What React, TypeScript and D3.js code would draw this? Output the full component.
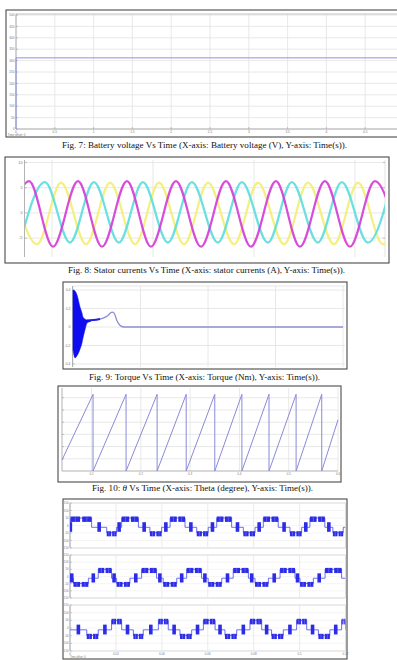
import React from "react";
import * as d3 from "d3";

const SERIF = "'Liberation Serif','Times New Roman',Times,serif";
const SANS = "'Liberation Sans',Arial,Helvetica,sans-serif";
const GRID = "#e2e2e2";
const AXIS = "#a0a0a0";
const TICKTXT = "#7a7a7a";
const BOX = "#4a4a4a";

// ---------- Fig 7: battery voltage ----------
const f7Time = [0, 0, 5];
const f7Voltage = [0, 312, 312];
const f7XTicks = [0, 0.5, 1, 1.5, 2, 2.5, 3, 3.5, 4, 4.5, 5];
const f7YTicks = [0, 50, 100, 150, 200, 250, 300, 350, 400, 450, 500];

// ---------- Fig 8: stator currents (times in ms, extrema) ----------
const f8MagentaPeaks = [10.9, 30.3, 49.7, 69.1, 88.9, 108.7, 128.1, 147.9];
const f8MagentaTroughs = [1.0, 20.4, 39.8, 59.2, 79.0, 98.8, 118.2, 138.0, 157.8];
const f8CyanPeaks = [17.2, 36.6, 56.0, 75.4, 95.2, 115.0, 134.8, 154.6];
const f8CyanTroughs = [7.3, 27.1, 46.5, 65.9, 85.7, 105.5, 125.3, 145.1];
const f8YellowPeaks = [4.2, 23.6, 43.0, 62.4, 81.8, 101.6, 121.4, 141.2, 161.0];
const f8YellowTroughs = [14.1, 33.5, 52.9, 72.3, 92.1, 111.9, 131.7, 151.1];
const f8PeakAmps = [6.3, 6.1, 6.0]; // magenta, cyan, yellow
const f8TroughAmps = [-6.7, -5.9, -6.2];
const f8XTicks = [20, 60, 100, 140];
const f8YTicks = [10, 5, 0, -5];

// ---------- Fig 9: torque ----------
const f9EnvTime = [0, 0.015, 0.03, 0.052, 0.067, 0.074, 0.089, 0.104, 0.13];
const f9EnvUpper = [0.4, 0.39, 0.346, 0.216, 0.15, 0.108, 0.085, 0.076, 0.065];
const f9EnvLower = [-0.25, -0.335, -0.31, -0.24, -0.17, -0.12, -0.03, 0.043, 0.06];
const f9MeanTime = [0.104, 0.15, 0.2, 0.25, 0.29, 0.305, 0.325, 0.35, 0.38, 2.0];
const f9MeanTorque = [0.07, 0.075, 0.086, 0.115, 0.16, 0.15, 0.07, 0.015, 0, 0];
const f9XTicks = [0, 0.5, 1, 1.5, 2];
const f9YTicks = [0.4, 0.2, 0, -0.2, -0.4];

// ---------- Fig 10: theta ----------
const f10WrapTimes = [0.103, 0.17, 0.233, 0.292, 0.35, 0.405, 0.46, 0.515, 0.567];
const f10Start = [0.04, 0.9];
const f10End = [0.6, 4.2];
const f10ThetaMax = 6.283;
const f10XTicks = [0.1, 0.2, 0.3, 0.4, 0.5, 0.6];
const f10YTicks = [1, 2, 3, 4, 5, 6];

// ---------- Fig 11: inverter phase voltages (plateau intervals in s) ----------
const f11ATops = [[0.0003, 0.0094], [0.0225, 0.0298], [0.0436, 0.0501], [0.0639, 0.0704], [0.0842, 0.0907], [0.1045, 0.111]];
const f11ABottoms = [[0.016, 0.0203], [0.0348, 0.0399], [0.0552, 0.0602], [0.0755, 0.0806], [0.0958, 0.1009], [0.1145, 0.119]];
const f11BTops = [[0.0123, 0.0181], [0.0312, 0.0377], [0.0508, 0.0573], [0.0711, 0.0777], [0.0915, 0.098], [0.1111, 0.1183]];
const f11BBottoms = [[0.0015, 0.008], [0.0203, 0.0261], [0.0406, 0.0465], [0.0602, 0.0661], [0.0806, 0.0864], [0.1002, 0.106]];
const f11CTops = [[0.0181, 0.0225], [0.0385, 0.0428], [0.0581, 0.0632], [0.0784, 0.0835], [0.0987, 0.1031], [0.1183, 0.12]];
const f11CBottoms = [[0.0073, 0.0123], [0.0276, 0.0319], [0.0479, 0.053], [0.0675, 0.0726], [0.0878, 0.0929], [0.1082, 0.1132]];
const f11Levels = [50, -12, -48]; // top, mid, bottom line levels
const f11TopBlock = [24, 60];
const f11BottomBlock = [-72, -38];
const f11TransBlock = [-42, 22];
const f11XTicks = [0, 0.02, 0.04, 0.06, 0.08, 0.1, 0.12];
const f11XTickLabels = ["0", "0.02", "0.04", "0.06", "0.08", "0.1", "0.12"];
const f11YTicks = [150, 100, 50, 0, -50, -100, -150];

function Caption({ x, y, w, children }: any) {
  return (
    <text x={x} y={y} textLength={w} lengthAdjust="spacingAndGlyphs" fontFamily={SERIF} fontSize={8.7} fill="#111">
      {children}
    </text>
  );
}

function TinyText({ x, y, anchor = "middle", children, size = 3.6 }: any) {
  return (
    <text x={x} y={y} textAnchor={anchor} fontFamily={SANS} fontSize={size} fill={TICKTXT}>
      {children}
    </text>
  );
}

function Fig7() {
  const x = d3.scaleLinear().domain([0, 5]).range([16, 404]);
  const y = d3.scaleLinear().domain([0, 500]).range([129, 15]);
  const pts = f7Time.map((t, i) => [t, f7Voltage[i]] as [number, number]);
  const line = d3.line<[number, number]>().x((d) => x(d[0])).y((d) => y(d[1]));
  return (
    <g>
      <rect x={6} y={10} width={400} height={127} fill="#fff" stroke={BOX} strokeWidth={1.1} />
      {f7XTicks.map((t) => (
        <line key={"gx" + t} x1={x(t)} x2={x(t)} y1={14} y2={129} stroke={GRID} strokeWidth={0.8} />
      ))}
      {f7YTicks.map((v) => (
        <line key={"gy" + v} x1={16} x2={404} y1={y(v)} y2={y(v)} stroke={GRID} strokeWidth={0.8} />
      ))}
      <line x1={16} x2={404} y1={14} y2={14} stroke={AXIS} strokeWidth={0.6} />
      <line x1={16} x2={16} y1={14} y2={129} stroke={AXIS} strokeWidth={0.8} />
      <line x1={16} x2={404} y1={129} y2={129} stroke={AXIS} strokeWidth={0.8} />
      {f7YTicks.map((v) => (
        <g key={"ty" + v}>
          <line x1={16} x2={18} y1={y(v)} y2={y(v)} stroke={AXIS} strokeWidth={0.6} />
          <TinyText x={14.5} y={y(v) + 1.2} anchor="end" size={3.2}>{v}</TinyText>
        </g>
      ))}
      {f7XTicks
        .filter((t) => x(t) < 392)
        .map((t) => (
          <g key={"tx" + t}>
            <line x1={x(t)} x2={x(t)} y1={127} y2={129} stroke={AXIS} strokeWidth={0.6} />
            <TinyText x={x(t)} y={133} size={3.2}>{t}</TinyText>
          </g>
        ))}
      <TinyText x={7.5} y={135.5} anchor="start" size={3}>Time offset: 0</TinyText>
      <path d={line(pts) || ""} fill="none" stroke="#9090e2" strokeWidth={1} />
    </g>
  );
}

function Fig8() {
  const x = d3.scaleLinear().domain([9.3, 151.9]).range([25, 385]);
  const y = d3.scaleLinear().domain([-8.75, 10.5]).range([257, 160]);
  const series = [
    { peaks: f8YellowPeaks, troughs: f8YellowTroughs, hi: f8PeakAmps[2], lo: f8TroughAmps[2], color: "#f2ef78" },
    { peaks: f8CyanPeaks, troughs: f8CyanTroughs, hi: f8PeakAmps[1], lo: f8TroughAmps[1], color: "#62dede" },
    { peaks: f8MagentaPeaks, troughs: f8MagentaTroughs, hi: f8PeakAmps[0], lo: f8TroughAmps[0], color: "#d542d7" },
  ];
  const line = d3
    .line<[number, number]>()
    .x((d) => x(d[0]))
    .y((d) => y(d[1]))
    .curve(d3.curveMonotoneX);
  return (
    <g>
      <defs>
        <clipPath id="f8clip">
          <rect x={25} y={158} width={360} height={100} />
        </clipPath>
      </defs>
      <rect x={5} y={157} width={384} height={106} fill="#fff" stroke={BOX} strokeWidth={1.1} />
      {f8XTicks.map((t) => (
        <line key={"gx" + t} x1={x(t)} x2={x(t)} y1={160} y2={257} stroke={GRID} strokeWidth={0.8} />
      ))}
      {f8YTicks.map((v) => (
        <line key={"gy" + v} x1={25} x2={385} y1={y(v)} y2={y(v)} stroke={GRID} strokeWidth={0.8} />
      ))}
      <line x1={24.5} x2={24.5} y1={160} y2={257} stroke={AXIS} strokeWidth={0.8} />
      <line x1={385} x2={385} y1={160} y2={257} stroke="#d0d0d0" strokeWidth={0.6} />
      {f8YTicks.map((v) => (
        <g key={"ty" + v}>
          <line x1={24.5} x2={27} y1={y(v)} y2={y(v)} stroke={AXIS} strokeWidth={0.6} />
          <line x1={383} x2={385} y1={y(v)} y2={y(v)} stroke={AXIS} strokeWidth={0.6} />
          <TinyText x={22.5} y={y(v) + 1.3} anchor="end" size={3.8}>{v}</TinyText>
        </g>
      ))}
      <g clipPath="url(#f8clip)">
        {series.map((s, i) => {
          const pts = [
            ...s.peaks.map((t) => [t, s.hi] as [number, number]),
            ...s.troughs.map((t) => [t, s.lo] as [number, number]),
          ].sort((a, b) => a[0] - b[0]);
          return (
            <path key={i} d={line(pts) || ""} fill="none" stroke={s.color} strokeWidth={2.2} strokeLinejoin="round" opacity={0.95} />
          );
        })}
      </g>
    </g>
  );
}

function Fig9() {
  const x = d3.scaleLinear().domain([0, 2]).range([73, 343]);
  const y = d3.scaleLinear().domain([-0.45, 0.45]).range([368.6, 285.4]);
  const env = f9EnvTime.map((t, i) => ({ t, u: f9EnvUpper[i], l: f9EnvLower[i] }));
  const area = d3
    .area<{ t: number; u: number; l: number }>()
    .x((d) => x(d.t))
    .y0((d) => y(d.l))
    .y1((d) => y(d.u))
    .curve(d3.curveMonotoneX);
  const mean = f9MeanTime.map((t, i) => [t, f9MeanTorque[i]] as [number, number]);
  const line = d3
    .line<[number, number]>()
    .x((d) => x(d[0]))
    .y((d) => y(d[1]))
    .curve(d3.curveMonotoneX);
  const early = mean.filter((d) => d[0] <= 0.2);
  return (
    <g>
      <rect x={63} y={282} width={284} height={87} fill="#fff" stroke={BOX} strokeWidth={1.1} />
      {f9XTicks.map((t) => (
        <line key={"gx" + t} x1={x(t)} x2={x(t)} y1={286} y2={367} stroke={GRID} strokeWidth={0.8} />
      ))}
      {f9YTicks.map((v) => (
        <line key={"gy" + v} x1={73} x2={345} y1={y(v)} y2={y(v)} stroke={GRID} strokeWidth={0.8} />
      ))}
      <line x1={72.5} x2={72.5} y1={286} y2={367} stroke={AXIS} strokeWidth={0.8} />
      <line x1={73} x2={345} y1={286} y2={286} stroke="#d6d6d6" strokeWidth={0.6} />
      {f9YTicks.map((v) => (
        <g key={"ty" + v}>
          <line x1={72.5} x2={75} y1={y(v)} y2={y(v)} stroke={AXIS} strokeWidth={0.6} />
          <TinyText x={70.5} y={y(v) + 1.2} anchor="end" size={3.4}>{v}</TinyText>
        </g>
      ))}
      <path d={line(mean) || ""} fill="none" stroke="#8e8ed2" strokeWidth={1.3} />
      <path d={line(early) || ""} fill="none" stroke="#2020e8" strokeWidth={2} />
      <path d={area(env) || ""} fill="#0d0df0" stroke="#0d0df0" strokeWidth={0.5} />
    </g>
  );
}

function Fig10() {
  const x = d3.scaleLinear().domain([0.04, 0.6]).range([62, 338]);
  const y = d3.scaleLinear().domain([0, 6.8]).range([471, 388]);
  const pts: [number, number][] = [[f10Start[0], f10Start[1]]];
  f10WrapTimes.forEach((t) => {
    pts.push([t, f10ThetaMax]);
    pts.push([t, 0]);
  });
  pts.push([f10End[0], f10End[1]]);
  const line = d3.line<[number, number]>().x((d) => x(d[0])).y((d) => y(d[1]));
  return (
    <g>
      <rect x={58} y={386} width={283} height={96} fill="#fff" stroke={BOX} strokeWidth={1.1} />
      {f10XTicks.map((t) => (
        <line key={"gx" + t} x1={x(t)} x2={x(t)} y1={388} y2={471} stroke={GRID} strokeWidth={0.8} />
      ))}
      {f10YTicks.map((v) => (
        <line key={"gy" + v} x1={62} x2={338} y1={y(v)} y2={y(v)} stroke={GRID} strokeWidth={0.8} />
      ))}
      <line x1={62} x2={62} y1={388} y2={471} stroke={AXIS} strokeWidth={0.8} />
      <line x1={62} x2={338} y1={471} y2={471} stroke={AXIS} strokeWidth={0.8} />
      {f10YTicks.map((v) => (
        <line key={"ty" + v} x1={62} x2={64} y1={y(v)} y2={y(v)} stroke={AXIS} strokeWidth={0.6} />
      ))}
      {f10XTicks.map((t) => (
        <TinyText key={"tx" + t} x={x(t)} y={474.5} size={3}>{t}</TinyText>
      ))}
      <path d={line(pts) || ""} fill="none" stroke="#8a8ad8" strokeWidth={1} />
    </g>
  );
}

function Fig11Panel({ top, bottom, tops, bottoms, showX }: any) {
  const x = d3.scaleLinear().domain([0, 0.12]).range([70, 345.5]);
  const y = d3.scaleLinear().domain([-150, 150]).range([bottom, top]);
  const [TOP, MID, BOT] = f11Levels;
  const plateaus = [
    ...tops.map((p: number[]) => ({ s: p[0], e: p[1], top: true })),
    ...bottoms.map((p: number[]) => ({ s: p[0], e: p[1], top: false })),
  ].sort((a, b) => a.s - b.s);
  const pts: [number, number][] = [[0, MID]];
  plateaus.forEach((p) => {
    const lvl = p.top ? TOP : BOT;
    pts.push([p.s, MID], [p.s, lvl], [p.e, lvl], [p.e, MID]);
  });
  pts.push([0.12, MID]);
  const line = d3.line<[number, number]>().x((d) => x(d[0])).y((d) => y(d[1]));
  const blocks: { x0: number; x1: number; v0: number; v1: number }[] = [];
  plateaus.forEach((p) => {
    const w = p.e - p.s;
    const b = p.top ? f11TopBlock : f11BottomBlock;
    blocks.push({ x0: p.s, x1: p.s + w * 0.45, v0: b[0], v1: b[1] });
    blocks.push({ x0: p.s + w * 0.55, x1: p.e, v0: b[0], v1: b[1] });
  });
  const trans: number[] = [];
  let prevEnd = 0;
  plateaus.forEach((p) => {
    trans.push((prevEnd + p.s) / 2);
    prevEnd = p.e;
  });
  return (
    <g>
      <rect x={70} y={top} width={275.5} height={bottom - top} fill="#fff" stroke="#b8b8b8" strokeWidth={0.6} />
      {f11XTicks.map((t) => (
        <line key={"gx" + t} x1={x(t)} x2={x(t)} y1={top} y2={bottom} stroke={GRID} strokeWidth={0.7} />
      ))}
      {f11YTicks.map((v) => (
        <g key={"gy" + v}>
          <line x1={70} x2={345.5} y1={y(v)} y2={y(v)} stroke="#efefef" strokeWidth={0.6} />
          <line x1={70} x2={72} y1={y(v)} y2={y(v)} stroke={AXIS} strokeWidth={0.5} />
          <TinyText x={68.5} y={y(v) + 1} anchor="end" size={2.8}>{v}</TinyText>
        </g>
      ))}
      <line x1={70} x2={70} y1={top} y2={bottom} stroke={AXIS} strokeWidth={0.7} />
      {showX &&
        f11XTicks.map((t, i) => (
          <TinyText key={"tx" + t} x={x(t)} y={bottom + 3.6} size={3}>{f11XTickLabels[i]}</TinyText>
        ))}
      <defs>
        <clipPath id={"p11" + top}>
          <rect x={70} y={top} width={275.5} height={bottom - top} />
        </clipPath>
      </defs>
      <g clipPath={"url(#p11" + top + ")"}>
        <path d={line(pts) || ""} fill="none" stroke="#4a4af0" strokeWidth={0.8} />
        {blocks.map((b, i) => (
          <g key={"b" + i}>
            <rect x={x(b.x0)} y={y(b.v1)} width={x(b.x1) - x(b.x0)} height={y(b.v0) - y(b.v1)} fill="#2c2ce6" />
            <line x1={(x(b.x0) + x(b.x1)) / 2} x2={(x(b.x0) + x(b.x1)) / 2} y1={y(b.v1)} y2={y(b.v0)} stroke="#8a8af4" strokeWidth={0.5} />
          </g>
        ))}
        {trans.map((t, i) => (
          <rect key={"t" + i} x={x(t) - 1.8} y={y(f11TransBlock[1])} width={3.6} height={y(f11TransBlock[0]) - y(f11TransBlock[1])} fill="#2c2ce6" />
        ))}
      </g>
    </g>
  );
}

function Fig11() {
  return (
    <g>
      <rect x={63} y={499} width={284} height={160} fill="#fff" stroke={BOX} strokeWidth={1.1} />
      <Fig11Panel top={503} bottom={548} tops={f11ATops} bottoms={f11ABottoms} />
      <Fig11Panel top={555} bottom={598} tops={f11BTops} bottoms={f11BBottoms} />
      <Fig11Panel top={605} bottom={651} tops={f11CTops} bottoms={f11CBottoms} showX />
      <TinyText x={70} y={658.3} anchor="start" size={2.6}>Time offset: 0</TinyText>
    </g>
  );
}

export default function App() {
  return (
    <svg width={397} height={660} viewBox="0 0 397 660" style={{ position: "fixed", left: 0, top: 0, display: "block" }}>
      <rect width={397} height={660} fill="#fff" />
      <Fig7 />
      <Caption x={62} y={147.5} w={285}>
        Fig. 7: Battery voltage Vs Time (X-axis: Battery voltage (V), Y-axis: Time(s)).
      </Caption>
      <Fig8 />
      <Caption x={68} y={272.5} w={277}>
        Fig. 8: Stator currents Vs Time (X-axis: stator currents (A), Y-axis: Time(s)).
      </Caption>
      <Fig9 />
      <Caption x={89} y={379.5} w={231}>
        Fig. 9: Torque Vs Time (X-axis: Torque (Nm), Y-axis: Time(s)).
      </Caption>
      <Fig10 />
      <Caption x={92} y={491} w={221}>
        Fig. 10: <tspan fontStyle="italic">θ</tspan> Vs Time (X-axis: Theta (degree), Y-axis: Time(s)).
      </Caption>
      <Fig11 />
    </svg>
  );
}
